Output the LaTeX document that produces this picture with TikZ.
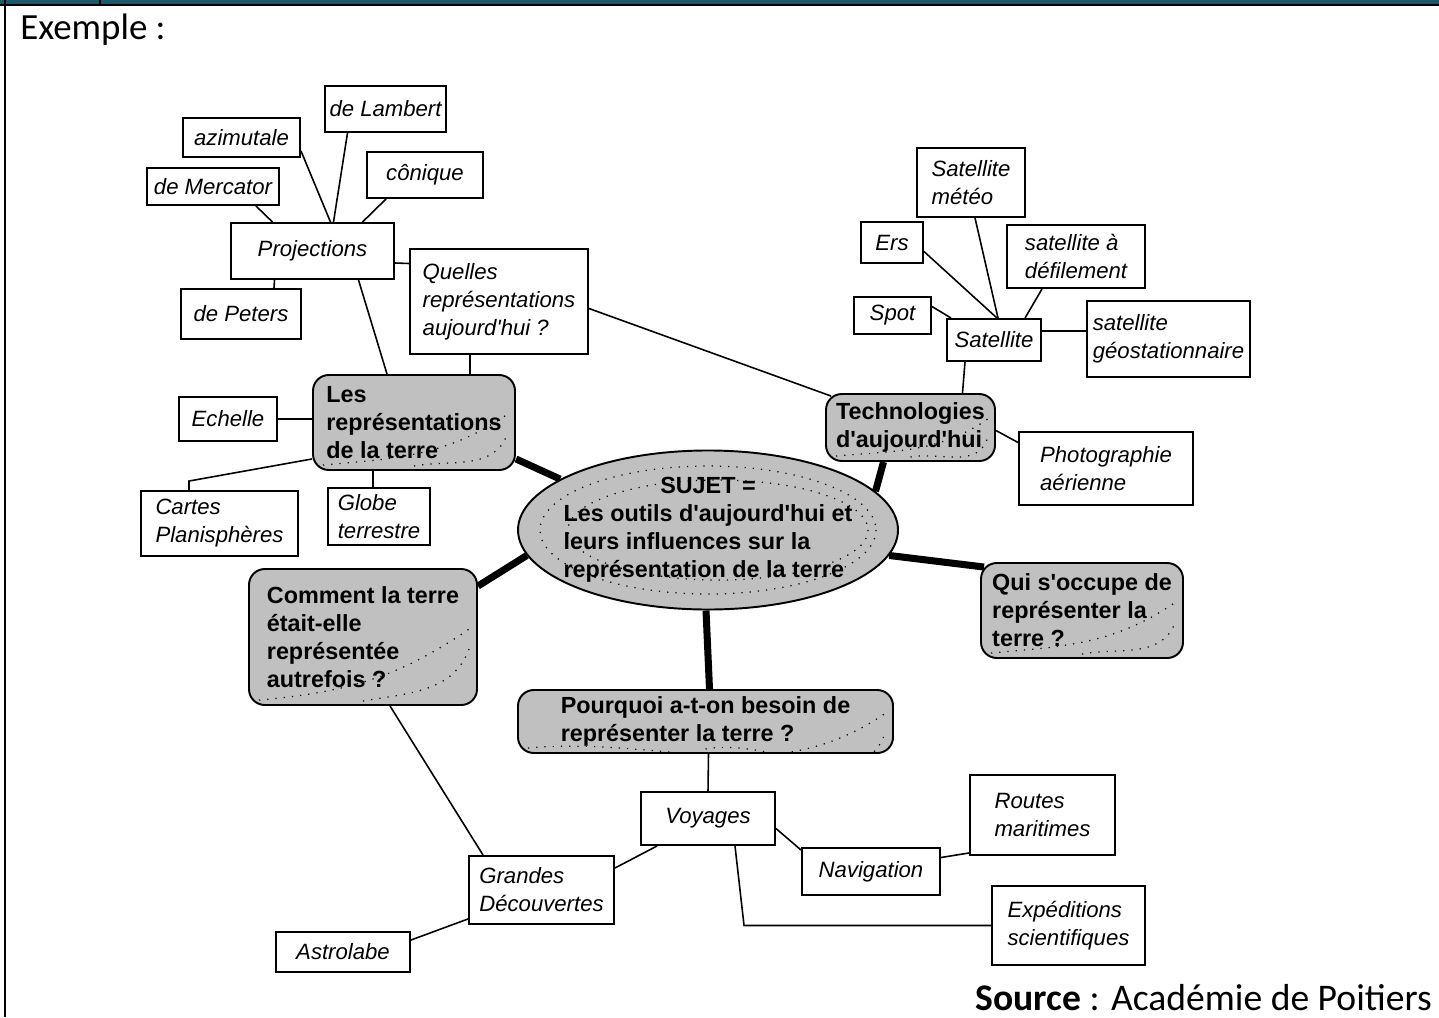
\documentclass[tikz,border=0pt]{standalone}
\usepackage{fontspec}
\setmainfont{Liberation Sans}
\newfontfamily\wordfont{Carlito}
\usepackage{tikz}
\usetikzlibrary{calc,shapes.geometric}
\definecolor{bandteal}{RGB}{33,88,104}
\definecolor{mapgray}{RGB}{192,192,192}
\newcommand{\leaffont}{\itshape\fontsize{12.6}{16}\selectfont}
\newcommand{\topicfont}{\bfseries\fontsize{13.3}{16}\selectfont}
\newcommand{\apos}{\textquotesingle}
\tikzset{
  size/.style 2 args={minimum width=#1*0.02cm, minimum height=#2*0.02cm},
  leaf/.style={draw, fill=white, line width=1.1pt, font=\leaffont, align=left, inner sep=1pt},
  dotline/.style={line width=0.7pt, dash pattern=on 0.7pt off 4pt},
  topic/.style={draw, fill=mapgray, line width=1.1pt, rounded corners=9pt, font=\topicfont,
    align=left, inner sep=1pt,
    path picture={
      \draw[dotline] ($(path picture bounding box.south west)+(10,-5)$) to[out=5,in=215]
        ($(path picture bounding box.east)+(-5,-10)$);
      \draw[dotline] ($(path picture bounding box.south)+(0,-4)$) to[out=10,in=250]
        ($(path picture bounding box.east)+(-8,12)$);
    }},
  link/.style={line width=0.9pt},
  trunk/.style={line width=4pt},
}
\begin{document}
\begin{tikzpicture}[x=0.02cm,y=-0.02cm]
\useasboundingbox (0,0) rectangle (1439,1017);
\fill[bandteal] (0,0) rectangle (1439,4);
\draw[line width=0.05cm] (0,5) -- (1439,5);
\draw[line width=0.04cm] (100,0) -- (100,5);
\draw[line width=0.05cm] (5,0) -- (5,1017);
\node[anchor=base west, inner sep=0pt, font=\wordfont\fontsize{21}{25}\selectfont] (exemple) at (20,40) {Exemple :};
\node[anchor=base east, inner sep=0pt, font=\wordfont\fontsize{21.4}{25}\selectfont] (source) at (1432,1010) {\textbf{Source} : Académie de Poitiers};

\node[leaf, size={121}{46}] (lambert) at (385.5,109) {de Lambert};
\node[leaf, size={117}{39}] (azimut) at (241.5,137.5) {azimutale};
\node[leaf, size={116}{46}] (conique) at (425,175) {cônique};
\node[leaf, size={132}{37}] (mercator) at (213,186.5) {de Mercator};
\node[leaf, size={163}{56}] (proj) at (312.5,251) {Projections};
\node[leaf, size={120}{50}] (peters) at (241,314) {de Peters};
\node[leaf, size={178}{105}] (quelles) at (499,301.5) {Quelles\\représentations\\aujourd\apos hui ?};

\node[leaf, size={108}{69}] (meteo) at (971,182.5) {Satellite\\météo};
\node[leaf, size={62}{41}] (ers) at (892,242.5) {Ers};
\node[leaf, size={138}{63}] (defil) at (1076,256.5) {satellite à\\défilement};
\node[leaf, size={77}{37}] (spot) at (892.5,315.5) {Spot};
\node[leaf, size={94}{42}] (sat) at (994,340) {Satellite};
\node[leaf, size={163}{76}] (geo) at (1168.5,339) {satellite\\géostationnaire};

\node[topic, size={202}{95}] (lesrep) at (414,422.5) {Les\\représentations\\de la terre};
\node[leaf, size={98}{44}] (echelle) at (228,419) {Echelle};
\node[leaf, size={157}{65}] (cartes) at (219.5,523.5) {Cartes\\Planisphères};
\node[leaf, size={102}{57}] (globe) at (379,516.5) {Globe\\terrestre};

\node[topic, size={169}{67}] (techno) at (910.5,427.5) {Technologies\\d\apos aujourd\apos hui};
\node[leaf, size={174}{73}] (photo) at (1106,468.5) {Photographie\\aérienne};

\node[ellipse, draw, fill=mapgray, line width=1.1pt, font=\topicfont, size={380}{156},
  inner xsep=-0.25cm, inner ysep=0pt,
  path picture={
    \draw[dotline] (path picture bounding box.center) ellipse (168 and 64);
    \draw[dotline] ($(path picture bounding box.center)+(10,0)$) ellipse (150 and 50);
  }] (sujet) at (708,530)
  {\begin{tabular}{@{}l@{}}\multicolumn{1}{@{}c@{}}{SUJET =}\\Les outils d\apos aujourd\apos hui et\\leurs influences sur la\\représentation de la terre\end{tabular}};

\node[topic, size={202}{95}] (qui) at (1082,610.5) {Qui s\apos occupe de\\représenter la\\terre ?};
\node[topic, size={228}{136}] (comment) at (363,637) {Comment la terre\\était-elle\\représentée\\autrefois ?};
\node[topic, size={375}{63}] (pourquoi) at (705.5,721.5) {Pourquoi a-t-on besoin de\\représenter la terre ?};

\node[leaf, size={134}{53}] (voyages) at (708,818.5) {Voyages};
\node[leaf, size={138}{47}] (navig) at (871,871.5) {Navigation};
\node[leaf, size={145}{80}] (routes) at (1042.5,815) {Routes\\maritimes};
\node[leaf, size={153}{79}] (expe) at (1068.5,925.5) {Expéditions\\scientifiques};
\node[leaf, size={145}{68}] (grandes) at (541.5,890) {Grandes\\Découvertes};
\node[leaf, size={134}{40}] (astro) at (343,952) {Astrolabe};

\draw[link] ($(lambert.south)+(-38,0)$) -- ($(proj.north)+(21,0)$);
\draw[link] ($(azimut.south east)+(0,-7)$) -- ($(proj.north)+(18,0)$);
\draw[link] ($(conique.south west)+(20,0)$) -- ($(proj.north)+(50,0)$);
\draw[link] ($(mercator.south east)+(-24,0)$) -- ($(proj.north)+(-40,0)$);
\draw[link] ($(peters.north)+(33,0)$) -- ($(proj.south)+(-38,0)$);
\draw[link] ($(quelles.west)+(0,-38)$) -- ($(proj.east)+(0,12)$);
\draw[link] ($(proj.south)+(46,0)$) -- ($(lesrep.north)+(-27,0)$);
\draw[link] ($(quelles.south)+(-29,0)$) -- ($(lesrep.north)+(56,0)$);
\draw[link] ($(quelles.east)+(0,7)$) -- ($(techno.north west)+(6,3)$);

\draw[link] ($(meteo.south)+(4,0)$) -- ($(sat.north)+(4,0)$);
\draw[link] ($(ers.east)+(0,9)$) -- ($(sat.north)+(3,0)$);
\draw[link] ($(defil.south)+(-34,0)$) -- ($(sat.north)+(31,0)$);
\draw[link] ($(spot.east)+(0,-9)$) -- ($(sat.north west)+(5,0)$);
\draw[link] ($(sat.east)+(0,-9)$) -- ($(geo.west)+(0,-8)$);
\draw[link] ($(sat.south)+(-29,0)$) -- ($(techno.north)+(52,0)$);
\draw[link] ($(techno.east)+(0,3)$) -- ($(photo.west)+(0,-26)$);

\draw[link] (echelle.east) -- (lesrep.west |- echelle.east);
\draw[link] ($(lesrep.south west)+(0,-12)$) -- ($(cartes.north west)+(49,-9)$) -- ($(cartes.north west)+(49,0)$);
\draw[link] ($(lesrep.south)+(-41,0)$) -- ($(globe.north)+(-6,0)$);

\draw[trunk] ($(lesrep.south east)+(0,-12)$) -- (sujet.161);
\draw[trunk] ($(techno.south)+(-27,0)$) -- (sujet.13);
\draw[trunk] (sujet.-8) -- ($(qui.north west)+(4,5)$);
\draw[trunk] (sujet.188) -- ($(comment.north east)+(0,18)$);
\draw[trunk] ($(sujet.south)+(-2,0)$) -- ($(pourquoi.north)+(4,0)$);

\draw[link] ($(pourquoi.south)+(3,0)$) -- (voyages.north);
\draw[link] ($(voyages.south west)+(17,0)$) -- ($(grandes.east)+(0,-22)$);
\draw[link] ($(voyages.east)+(0,10)$) -- ($(navig.north west)+(0,3)$);
\draw[link] ($(voyages.south)+(27,0)$) -- ($(expe.west)+(-247,0)$) -- (expe.west);
\draw[link] ($(navig.east)+(0,-14)$) -- ($(routes.south west)+(0,-3)$);
\draw[link] ($(comment.south)+(27,0)$) -- ($(grandes.north west)+(15,0)$);
\draw[link] ($(grandes.south west)+(0,-6)$) -- ($(astro.east)+(0,-12)$);
\end{tikzpicture}
\end{document}
